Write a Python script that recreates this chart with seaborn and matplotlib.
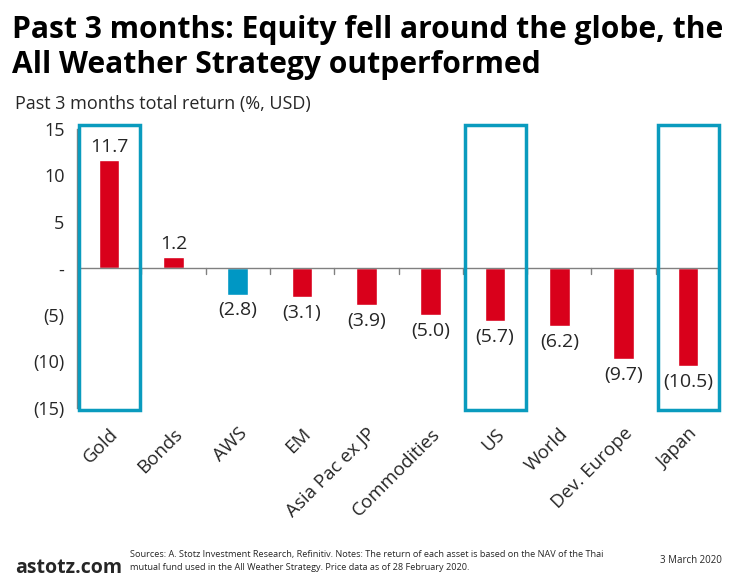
import matplotlib
matplotlib.use("Agg")
import matplotlib.pyplot as plt
import seaborn as sns
import pandas as pd
from matplotlib.patches import Rectangle

categories = ["Gold", "Bonds", "AWS", "EM", "Asia Pac ex JP", "Commodities",
              "US", "World", "Dev. Europe", "Japan"]
returns = [11.7, 1.2, -2.8, -3.1, -3.9, -5.0, -5.7, -6.2, -9.7, -10.5]
highlighted = ["Gold", "US", "Japan"]
yticks = [15, 10, 5, 0, -5, -10, -15]
ytick_labels = ["15", "10", "5", "-", "(5)", "(10)", "(15)"]

RED = "#D9001B"
BLUE = "#0097C4"
BOX = "#0A9BBE"
FONT = ["Open Sans", "DejaVu Sans"]

sns.set_style("white")
plt.rcParams["font.family"] = FONT

df = pd.DataFrame({"asset": categories, "ret": returns})
df["kind"] = ["aws" if a == "AWS" else "other" for a in df["asset"]]

fig = plt.figure(figsize=(7.37, 5.86), dpi=100)
ax = fig.add_axes([0.1045, 0.3038, 0.8725, 0.4761])

sns.barplot(data=df, x="asset", y="ret", hue="kind",
            palette={"aws": BLUE, "other": RED}, width=0.32,
            dodge=False, legend=False, ax=ax, saturation=1)

ax.set_xlim(-0.5, len(categories) - 0.5)
ax.set_ylim(-15, 15)
ax.set_yticks(yticks)
ax.set_yticklabels(ytick_labels, fontsize=13)
ax.tick_params(axis="y", length=5, width=1, color="#808080", direction="out", pad=4)
ax.set_xlabel("")
ax.set_ylabel("")
ax.set_xticks(range(len(categories)))
ax.set_xticklabels(categories, rotation=45, ha="right", rotation_mode="anchor",
                   fontsize=13.5)
ax.tick_params(axis="x", length=0, pad=12)

for s in ["top", "right", "bottom"]:
    ax.spines[s].set_visible(False)
ax.spines["left"].set_color("#808080")
ax.spines["left"].set_linewidth(1)

# zero line with little ticks between categories
ax.axhline(0, color="#808080", lw=1, zorder=1)
for i in range(len(categories) - 1):
    ax.plot([i + 0.5, i + 0.5], [0, -0.55], color="#808080", lw=1, zorder=1)

# value labels
for i, v in enumerate(returns):
    txt = f"{v:.1f}" if v >= 0 else f"({abs(v):.1f})"
    if v >= 0:
        ax.annotate(txt, (i, v), xytext=(0, 3), textcoords="offset points",
                    ha="center", va="bottom", fontsize=14)
    else:
        ax.annotate(txt, (i, v), xytext=(0, -5), textcoords="offset points",
                    ha="center", va="top", fontsize=14)

# highlight boxes
for name in highlighted:
    i = categories.index(name)
    ax.add_patch(Rectangle((i - 0.47, -15.2), 0.95, 30.6, fill=False,
                           edgecolor=BOX, lw=2.5, clip_on=False, zorder=3))

fig.text(0.016, 0.949, "Past 3 months: Equity fell around the globe, the",
         fontsize=21.6, fontweight="bold", va="center", ha="left", color="black")
fig.text(0.016, 0.889, "All Weather Strategy outperformed",
         fontsize=21.6, fontweight="bold", va="center", ha="left", color="black")
fig.text(0.02, 0.822, "Past 3 months total return (%, USD)",
         fontsize=13, va="center", ha="left")

fig.text(0.02, 0.031, "astotz.com", fontsize=14, fontweight="bold",
         va="center", ha="left")
fig.text(0.176, 0.043,
         "Sources: A. Stotz Investment Research, Refinitiv. Notes: The return of each asset is based on the NAV of the Thai\n"
         "mutual fund used in the All Weather Strategy. Price data as of 28 February 2020.",
         fontsize=6.6, va="center", ha="left", linespacing=1.5)
fig.text(0.895, 0.043, "3 March 2020", fontsize=7, va="center", ha="left")

fig.savefig("out.png", dpi=100)
